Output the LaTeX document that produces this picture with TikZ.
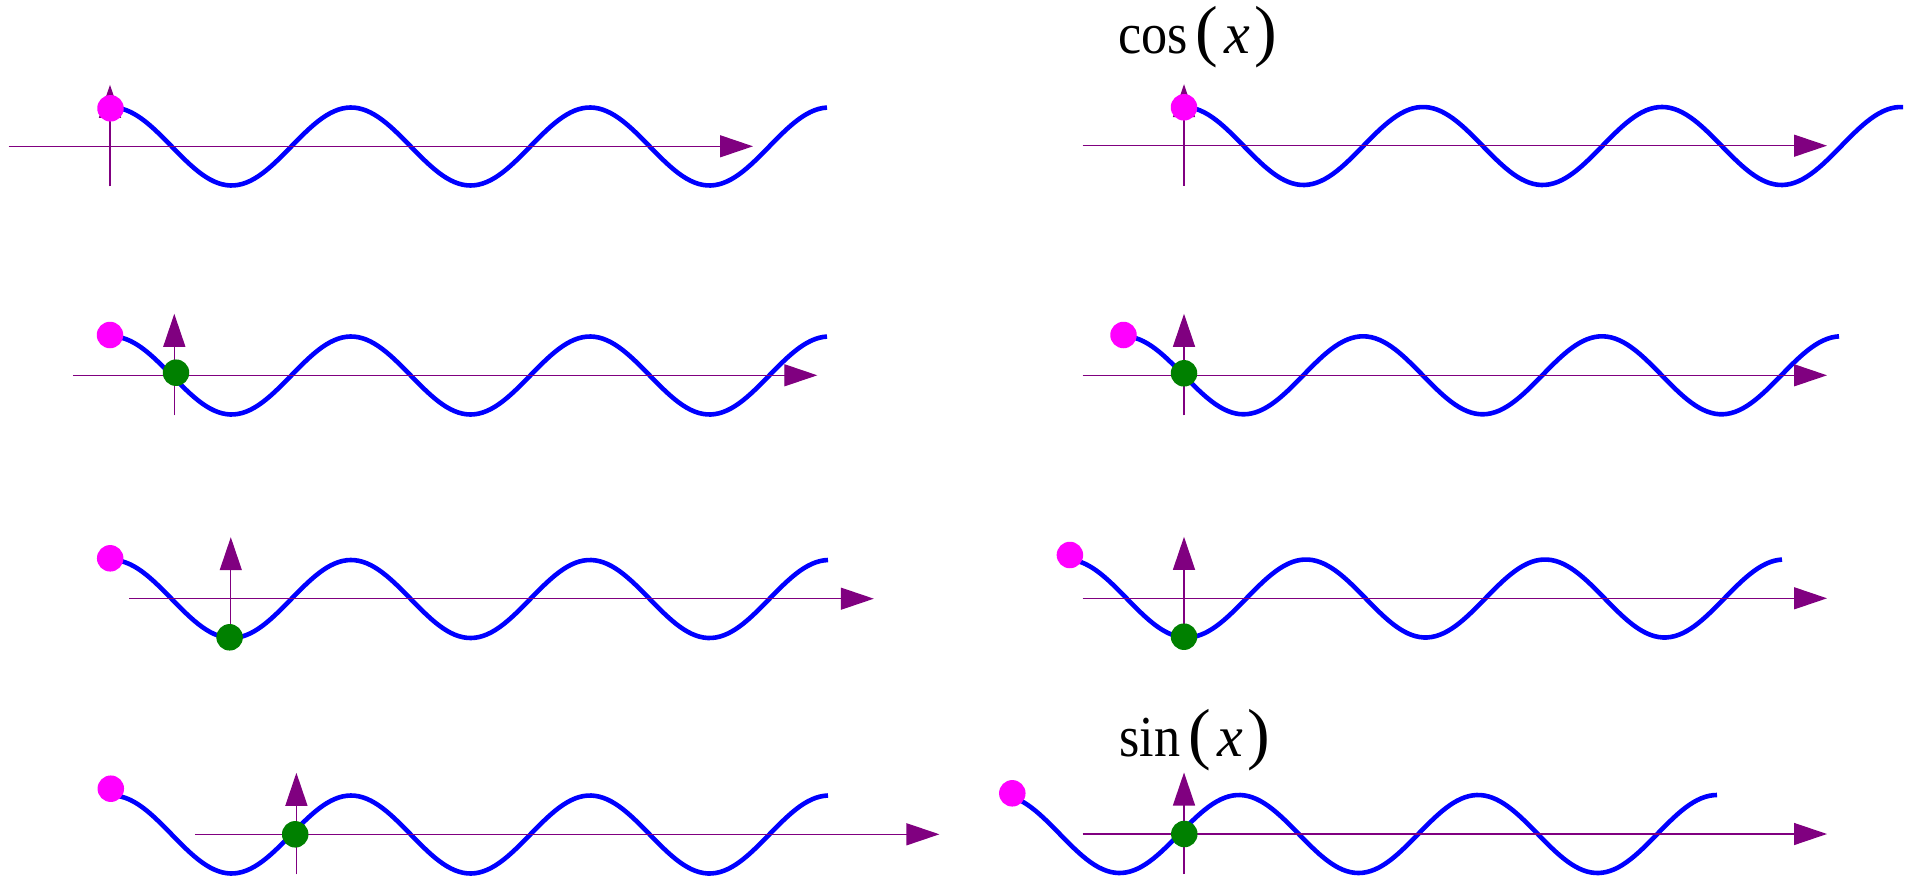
\documentclass[tikz,border=0pt]{standalone}
\usepackage{fontspec}
\usepackage{graphicx}
\setmainfont{Liberation Serif}
\usetikzlibrary{arrows.meta}
\definecolor{axpurple}{RGB}{128,0,128}
\definecolor{dotmag}{RGB}{255,0,255}
\definecolor{dotgreen}{RGB}{0,128,0}
\definecolor{waveblue}{RGB}{0,0,255}
\newcommand\pbig[1]{{\fontsize{68}{70}\selectfont #1}}
\newcommand\fname[1]{\scalebox{0.9}[1]{#1}\kern8pt\pbig{(}\kern6.5pt\textit{x}\kern4pt\pbig{)}}
% #1 yc, #2 peak x, #3 start x, #4 end x
\newcommand\wavecurve[4]{%
  \draw[wavestyle] plot[domain=#3:#4, samples=180] (\x, {#1 - 39*cos(1.50628*(\x-#2))});}
% #1 name, #2 origin x, #3 origin y
\newcommand\axespair[3]{%
  \coordinate (#1hl) at ({#2-101.5}, #3);
  \coordinate (#1hr) at ({#2+643}, #3);
  \coordinate (#1vb) at (#2, {#3+40});
  \coordinate (#1vt) at (#2, {#3-61.5});
  \draw[axisstyle] (#1hl) -- (#1hr);
  \draw[axisstyle] (#1vb) -- (#1vt);}
\begin{document}
\begin{tikzpicture}[x=1pt, y=-1pt,
  wavestyle/.style={draw=waveblue, line width=4.6pt},
  axisstyle/.style={draw=axpurple, line width=1.3pt, -{Triangle[length=33pt,width=22pt]}},
  magdot/.style={circle, fill=dotmag, minimum size=26.5pt, inner sep=0pt},
  greendot/.style={circle, fill=dotgreen, minimum size=26.5pt, inner sep=0pt},
  label/.style={inner sep=0pt, anchor=base west, font=\fontsize{58}{60}\selectfont}]
\useasboundingbox (0,0) rectangle (1913,880);
\fill[white] (0,0) rectangle (1913,880);
% waves, left column
\wavecurve{146.5}{112}{110}{827}
\wavecurve{375.5}{112}{110}{827}
\wavecurve{599}{112}{110}{828}
\wavecurve{834.5}{112}{110}{828}
% waves, right column
\wavecurve{146}{1184}{1184}{1903}
\wavecurve{375.3}{1124}{1123.5}{1839}
\wavecurve{598.5}{1067}{1069}{1782}
\wavecurve{834}{1000}{1012}{1717}
% axes
\axespair{L1}{110}{146.3}
\axespair{L2}{174.3}{375.3}
\axespair{L3}{230.8}{598.7}
\axespair{L4}{296.4}{834.3}
\axespair{R1}{1184}{145.7}
\axespair{R2}{1184}{375.3}
\axespair{R3}{1184}{598.3}
\axespair{R4}{1184}{834}
% magenta dots
\node[magdot] (mL1) at (110.5,108.3) {};
\node[magdot] (mL2) at (110,335) {};
\node[magdot] (mL3) at (110.2,558.3) {};
\node[magdot] (mL4) at (110.8,788.7) {};
\node[magdot] (mR1) at (1184,107.3) {};
\node[magdot] (mR2) at (1123.5,335) {};
\node[magdot] (mR3) at (1069.9,555) {};
\node[magdot] (mR4) at (1012.3,793.3) {};
% green dots
\node[greendot] (gL2) at (176,372.7) {};
\node[greendot] (gL3) at (229.6,637.3) {};
\node[greendot] (gL4) at (295.2,834.3) {};
\node[greendot] (gR2) at (1184,373.3) {};
\node[greendot] (gR3) at (1184,636.7) {};
\node[greendot] (gR4) at (1184.3,834) {};
% labels
\node[label] (cosl) at (1118,54) {\fname{cos}};
\node[label] (sinl) at (1119,756.7) {\fname{sin}};
\end{tikzpicture}
\end{document}
